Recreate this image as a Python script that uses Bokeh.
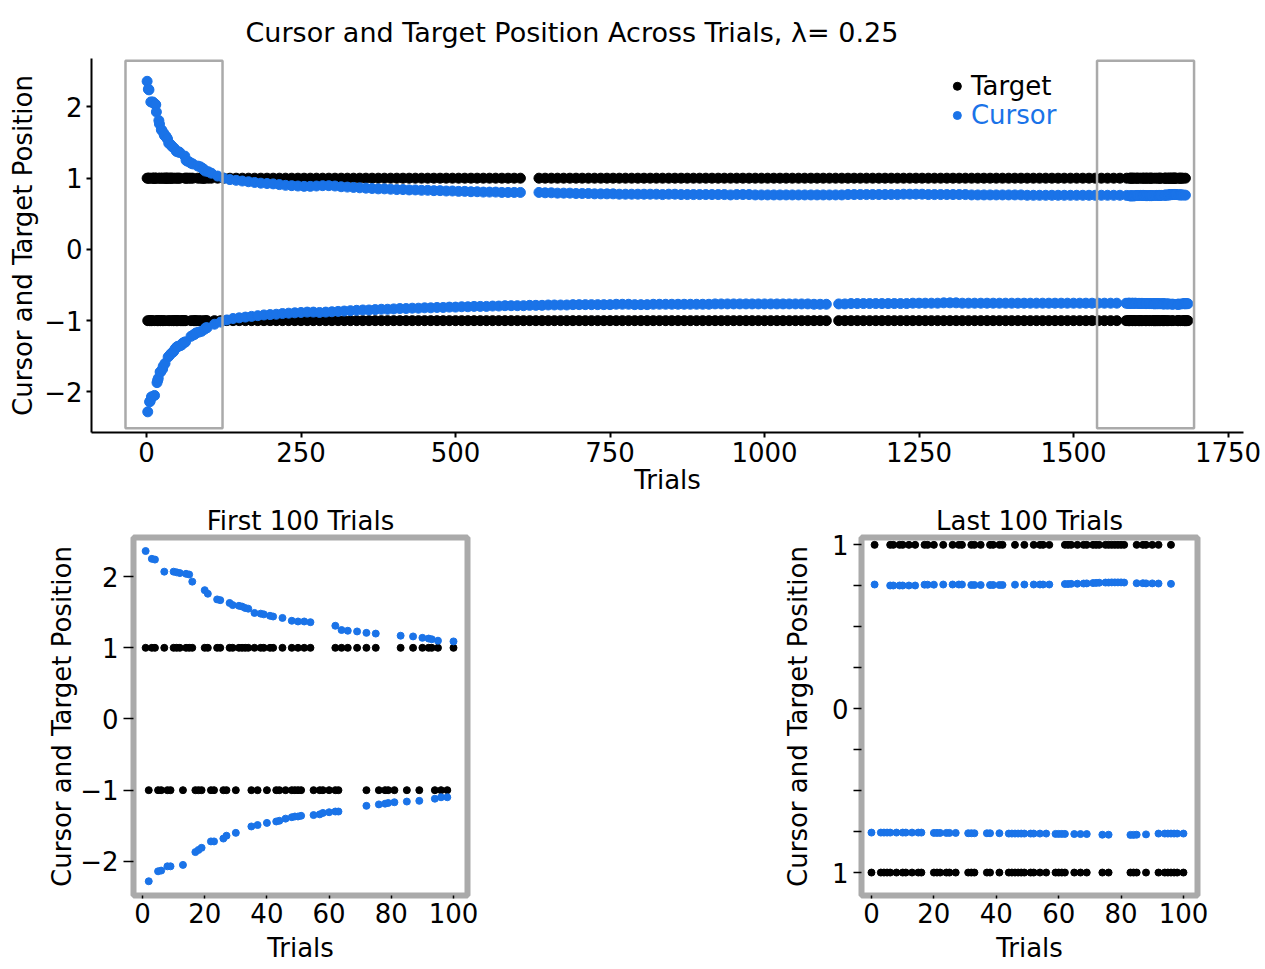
from bokeh.plotting import figure
from bokeh.models import Range1d, Title, FixedTicker
from bokeh.layouts import column, row
from bokeh.core.properties import value
from bokeh.embed import file_html
from bokeh.resources import INLINE

FONT = "DejaVu Sans"
BLUE = "#1a73e8"
GREY = "#aaaaaa"

# ---- first 100 trials -------------------------------------------------
first_up_trials = [1, 3, 4, 7, 10, 11, 12, 14, 15, 16, 20, 21, 24, 25, 28, 29, 31, 32, 33, 34,
                   36, 38, 39, 41, 42, 45, 48, 50, 52, 54, 62, 64, 66, 69, 72, 75, 83, 87, 90, 92,
                   93, 95, 100]
first_up_cursor = [2.36, 2.25, 2.24, 2.07, 2.07, 2.06, 2.05, 2.04, 2.03, 1.93,
                   1.81, 1.76, 1.68, 1.67, 1.63, 1.60, 1.59, 1.58, 1.56, 1.55,
                   1.49, 1.48, 1.47, 1.45, 1.44, 1.42, 1.38, 1.37, 1.37, 1.36,
                   1.31, 1.25, 1.24, 1.23, 1.21, 1.20, 1.17, 1.16, 1.14, 1.13,
                   1.12, 1.10, 1.09]
first_lo_trials = [2, 5, 6, 8, 9, 13, 17, 18, 19, 22, 23, 26, 27, 30, 35, 37, 40, 43, 44, 46,
                   48, 49, 50, 51, 55, 57, 58, 60, 62, 63, 72, 76, 78, 79, 81, 85, 89, 94, 96, 98]
first_lo_cursor = [-2.28, -2.14, -2.13, -2.07, -2.07, -2.05, -1.87, -1.84, -1.81, -1.72,
                   -1.72, -1.68, -1.64, -1.60, -1.51, -1.49, -1.46, -1.44, -1.43, -1.40,
                   -1.38, -1.37, -1.37, -1.36, -1.35, -1.34, -1.32, -1.31, -1.30, -1.30,
                   -1.22, -1.20, -1.19, -1.18, -1.17, -1.16, -1.15, -1.12, -1.10, -1.10]

# ---- middle of the session (overview only) ----------------------------
mid_up_trials = [t for t in range(105, 1580, 10) if t not in (615, 625)]
mid_up_cursor = [
    1.07, 1.03, 1.00, 0.98, 0.97, 0.96, 0.95, 0.94, 0.93, 0.925,
    0.92, 0.91, 0.90, 0.895, 0.89, 0.885, 0.885, 0.89, 0.895, 0.895,
    0.89, 0.88, 0.875, 0.87, 0.865, 0.86, 0.855, 0.85, 0.85, 0.845,
    0.84, 0.84, 0.835, 0.835, 0.83, 0.83, 0.825, 0.825, 0.82, 0.82,
    0.815, 0.815, 0.81, 0.81, 0.805, 0.805, 0.805, 0.80, 0.80, 0.80,
    0.80, 0.80, 0.795, 0.795, 0.79, 0.79, 0.79, 0.785,
    0.785, 0.785, 0.78, 0.78, 0.78, 0.78, 0.775, 0.775, 0.775, 0.775,
    0.775, 0.775, 0.775, 0.77, 0.775, 0.775, 0.77, 0.77, 0.77, 0.77,
    0.77, 0.77, 0.77, 0.77, 0.765, 0.77, 0.77, 0.77, 0.765, 0.765,
    0.765, 0.765, 0.765, 0.765, 0.765, 0.765, 0.765, 0.765, 0.765, 0.765,
    0.765, 0.765, 0.765, 0.77, 0.77, 0.77, 0.77, 0.77, 0.77, 0.77,
    0.77, 0.77, 0.775, 0.775, 0.775, 0.775, 0.77, 0.77, 0.77, 0.77,
    0.77, 0.77, 0.77, 0.765, 0.765, 0.765, 0.765, 0.765, 0.765, 0.765,
    0.765, 0.765, 0.76, 0.76, 0.76, 0.76, 0.76, 0.76, 0.76, 0.76,
    0.76, 0.76, 0.76, 0.76, 0.76, 0.76, 0.76, 0.76,
]
mid_lo_trials = [t for t in range(110, 1580, 10) if t != 1110]
mid_lo_cursor = [
    -1.05, -1.02, -0.99, -0.97, -0.96, -0.95, -0.94, -0.93, -0.92, -0.915,
    -0.91, -0.90, -0.895, -0.89, -0.885, -0.88, -0.88, -0.885, -0.88, -0.875,
    -0.87, -0.865, -0.86, -0.855, -0.85, -0.85, -0.845, -0.84, -0.84, -0.835,
    -0.83, -0.83, -0.825, -0.825, -0.82, -0.82, -0.815, -0.815, -0.81, -0.81,
    -0.805, -0.805, -0.80, -0.80, -0.80, -0.795, -0.795, -0.79, -0.79, -0.79,
    -0.79, -0.785, -0.785, -0.785, -0.78, -0.78, -0.78, -0.78, -0.775, -0.775,
    -0.775, -0.775, -0.775, -0.775, -0.775, -0.77, -0.77, -0.77, -0.775, -0.775,
    -0.775, -0.77, -0.77, -0.77, -0.77, -0.77, -0.77, -0.77, -0.77, -0.77,
    -0.77, -0.765, -0.765, -0.765, -0.765, -0.765, -0.765, -0.765, -0.765, -0.765,
    -0.765, -0.765, -0.765, -0.765, -0.765, -0.765, -0.765, -0.77, -0.77, -0.77,
    -0.765, -0.765, -0.76, -0.76, -0.76, -0.76, -0.76, -0.76, -0.76,
    -0.76, -0.76, -0.76, -0.755, -0.755, -0.755, -0.755, -0.755, -0.75, -0.75,
    -0.75, -0.755, -0.755, -0.755, -0.755, -0.755, -0.755, -0.755, -0.755, -0.755,
    -0.755, -0.755, -0.755, -0.755, -0.755, -0.755, -0.755, -0.755, -0.755, -0.755,
    -0.755, -0.755, -0.755, -0.755, -0.755, -0.755, -0.755,
]

# ---- last 100 trials (numbered within the window) ---------------------
last_start = 1585
last_up_trials = [1, 6, 7, 9, 10, 12, 14, 17, 18, 20, 23, 26, 28, 29, 32, 33, 35, 38, 39, 41,
                  42, 46, 49, 52, 54, 55, 57, 62, 63, 64, 66, 68, 69, 71, 72, 73, 75, 76, 77, 78,
                  79, 80, 81, 85, 87, 88, 90, 92, 96]
last_up_cursor = [0.758,
                  0.752, 0.752, 0.752, 0.752, 0.752, 0.752,
                  0.757, 0.757, 0.757,
                  0.758,
                  0.758, 0.758, 0.758,
                  0.755, 0.755, 0.755,
                  0.755, 0.755, 0.755, 0.755,
                  0.757,
                  0.758, 0.758, 0.758, 0.758, 0.758,
                  0.761, 0.761, 0.762, 0.763, 0.764, 0.765,
                  0.767, 0.768, 0.769, 0.770, 0.770, 0.771, 0.771, 0.771, 0.771, 0.770,
                  0.766, 0.766, 0.765, 0.765, 0.764,
                  0.762]
last_lo_trials = [0, 3, 4, 5, 6, 8, 10, 11, 13, 15, 16, 20, 21, 22, 24, 25, 27, 31, 32, 33,
                  37, 38, 41, 44, 45, 46, 47, 48, 49, 51, 52, 54, 56, 59, 60, 61, 62, 65, 67, 69,
                  74, 76, 83, 84, 85, 88, 92, 94, 95, 96, 97, 98, 100]
last_lo_cursor = [
    -0.756, -0.756, -0.756, -0.756, -0.756, -0.756, -0.756, -0.756, -0.756, -0.756, -0.756,
    -0.758, -0.758, -0.758, -0.758, -0.758, -0.758,
    -0.760, -0.760, -0.760, -0.760, -0.760, -0.760,
    -0.762, -0.762, -0.762, -0.762, -0.762, -0.762, -0.762, -0.762, -0.762, -0.762,
    -0.764, -0.764, -0.764, -0.764,
    -0.765, -0.765, -0.765,
    -0.769, -0.769,
    -0.770, -0.770, -0.769,
    -0.767,
    -0.762, -0.762, -0.762, -0.762, -0.762, -0.762, -0.762,
]

x_ticks_all = [0, 250, 500, 750, 1000, 1250, 1500, 1750]
x_ticks_window = [0, 20, 40, 60, 80, 100]
y_ticks_wide = [-2, -1, 0, 1, 2]
y_ticks_last = [-1, -0.75, -0.5, -0.25, 0, 0.25, 0.5, 0.75, 1]
wide_labels = {-2: "\u22122", -1: "\u22121", 0: "0", 1: "1", 2: "2"}
last_labels = {-1: "1", -0.75: "", -0.5: "", -0.25: "", 0: "0",
               0.25: "", 0.5: "", 0.75: "", 1: "1"}


def base_style(p, tick_px="26px"):
    p.background_fill_color = "white"
    p.border_fill_color = "white"
    p.xgrid.visible = False
    p.ygrid.visible = False
    for ax in (p.xaxis[0], p.yaxis[0]):
        ax.major_label_text_font = FONT
        ax.major_label_text_font_size = tick_px
        ax.major_label_text_color = "black"
        ax.axis_label_text_font = FONT
        ax.axis_label_text_font_size = "26px"
        ax.axis_label_text_font_style = "normal"
        ax.axis_label_text_color = "black"
        ax.minor_tick_line_color = None
        ax.major_tick_line_color = "black"
        ax.major_tick_in = 0


# ---- overview -----------------------------------------------------------
up_t = first_up_trials + mid_up_trials + [last_start + t for t in last_up_trials]
up_c = first_up_cursor + mid_up_cursor + last_up_cursor
lo_t = first_lo_trials + mid_lo_trials + [last_start + t for t in last_lo_trials]
lo_c = first_lo_cursor + mid_lo_cursor + last_lo_cursor

top = figure(width=1265, height=500, output_backend="svg", toolbar_location=None,
             x_range=Range1d(-89, 1775), y_range=Range1d(-2.57, 2.68),
             min_border_left=91, min_border_right=22, min_border_top=58,
             min_border_bottom=68)
top.title = Title(text="Cursor and Target Position Across Trials, \u03bb= 0.25",
                  align="left", offset=154, standoff=21, text_font=FONT,
                  text_font_size="27px", text_font_style="normal", text_color="black")
base_style(top)
top.outline_line_color = None
top.xaxis.axis_label = "Trials"
top.yaxis.axis_label = "Cursor and Target Position"
top.xaxis.ticker = FixedTicker(ticks=x_ticks_all)
top.yaxis.ticker = FixedTicker(ticks=y_ticks_wide)
top.yaxis.major_label_overrides = wide_labels
for ax in (top.xaxis[0], top.yaxis[0]):
    ax.axis_line_width = 2
    ax.major_tick_line_width = 2
    ax.major_tick_out = 5
top.xaxis.major_label_standoff = 4
top.xaxis.axis_label_standoff = 0
top.yaxis.major_label_standoff = 4
top.yaxis.axis_label_standoff = 3

top.scatter(up_t, [1] * len(up_t), size=10, color="black")
top.scatter(lo_t, [-1] * len(lo_t), size=10, color="black")
top.scatter(up_t, up_c, size=10, color=BLUE)
top.scatter(lo_t, lo_c, size=10, color=BLUE)

# windows that are enlarged below
top.quad(left=[-34, 1538], right=[123, 1695], top=[2.65, 2.65], bottom=[-2.51, -2.51],
         fill_color=None, line_color=GREY, line_width=2.5)

# legend
top.scatter([1312], [2.29], size=8, color="black")
top.scatter([1312], [1.88], size=8, color=BLUE)
top.text([1334], [2.29], text=["Target"], text_font=value(FONT), text_font_size="26px",
         text_color="black", text_baseline="middle", text_align="left")
top.text([1334], [1.88], text=["Cursor"], text_font=value(FONT), text_font_size="26px",
         text_color=BLUE, text_baseline="middle", text_align="left")


def window_panel(title, width, border_left, border_right, border_top, border_bottom,
                 xr, yr):
    p = figure(width=width, height=469, output_backend="svg", toolbar_location=None,
               x_range=Range1d(*xr), y_range=Range1d(*yr),
               min_border_left=border_left, min_border_right=border_right,
               min_border_top=border_top, min_border_bottom=border_bottom)
    p.title = Title(text=title, align="center", standoff=3, text_font=FONT,
                    text_font_size="26px", text_font_style="normal", text_color="black")
    base_style(p)
    p.outline_line_color = GREY
    p.outline_line_width = 6
    p.xaxis.axis_label = "Trials"
    p.yaxis.axis_label = "Cursor and Target Position"
    p.xaxis.ticker = FixedTicker(ticks=x_ticks_window)
    for ax in (p.xaxis[0], p.yaxis[0]):
        ax.axis_line_color = None
        ax.major_tick_line_width = 1.5
    p.xaxis.major_tick_out = 3
    p.xaxis.major_label_standoff = 4
    p.xaxis.axis_label_standoff = 7
    p.yaxis.major_tick_out = 10
    p.yaxis.major_label_standoff = 5
    return p


left = window_panel("First 100 Trials", 600, 133, 133, 37, 74, (-2.9, 104.5), (-2.48, 2.55))
left.yaxis.ticker = FixedTicker(ticks=y_ticks_wide)
left.yaxis.major_label_overrides = wide_labels
left.yaxis.axis_label_standoff = 0
left.scatter(first_up_trials, [1] * len(first_up_trials), size=7, color="black")
left.scatter(first_lo_trials, [-1] * len(first_lo_trials), size=7, color="black")
left.scatter(first_up_trials, first_up_cursor, size=7, color=BLUE)
left.scatter(first_lo_trials, first_lo_cursor, size=7, color=BLUE)

right = window_panel("Last 100 Trials", 665, 261, 68, 36, 73, (-3.2, 104.5), (-1.14, 1.045))
right.yaxis.ticker = FixedTicker(ticks=y_ticks_last)
right.yaxis.major_label_overrides = last_labels
right.yaxis.major_tick_out = 8
right.yaxis.axis_label_standoff = 16
right.scatter(last_up_trials, [1] * len(last_up_trials), size=7, color="black")
right.scatter(last_lo_trials, [-1] * len(last_lo_trials), size=7, color="black")
right.scatter(last_up_trials, last_up_cursor, size=7, color=BLUE)
right.scatter(last_lo_trials, last_lo_cursor, size=7, color=BLUE)

page = column(top, row(left, right))
open("out.html", "w").write(file_html(page, INLINE))
